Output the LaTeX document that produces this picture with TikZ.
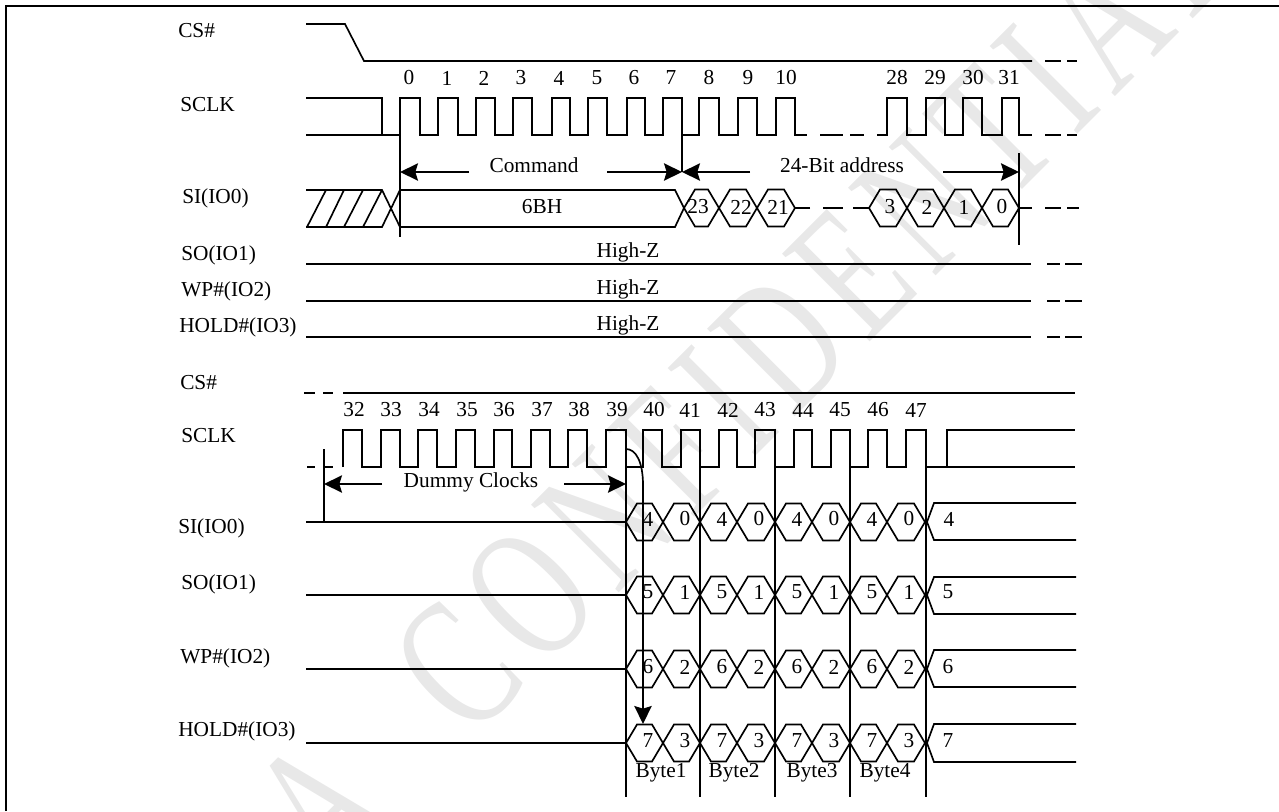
\documentclass[tikz,border=0pt]{standalone}
\usepackage{fontspec}
\setmainfont{Liberation Serif}
\newfontfamily\markfont[LetterSpace=10.8]{Liberation Serif}
\usetikzlibrary{arrows.meta}
\definecolor{markgray}{gray}{0.91}

\tikzset{
    sig/.style={line width=1.25pt},
    dimarrow/.style={line width=1.25pt, -{Stealth[length=13.5pt, width=13pt, inset=2pt]}},
    lbl/.style={font=\fontsize{16}{18}\selectfont, inner sep=0pt},
    pinlbl/.style={lbl, anchor=west},
    watermark/.style={font=\markfont\fontsize{142}{150}\selectfont, text=markgray, inner sep=0pt, anchor=base west, rotate=45, xscale=0.68}
}
% one data cell between two crossing points
\newcommand{\hexcell}[3]{
    \draw[sig] (#1,#3) -- ({#1+11},{#3-18.5}) -- ({#2-11},{#3-18.5}) -- (#2,#3)
        -- ({#2-11},{#3+18.5}) -- ({#1+11},{#3+18.5}) -- cycle;
}

\begin{document}
\begin{tikzpicture}[x=0.75pt, y=-0.75pt]
\useasboundingbox (0,0) rectangle (1279,811);
% Watermark behind everything
\begin{scope}
\clip (0,0) rectangle (1279,811);
\node[watermark] (markA) at (330,883) {A};
\node[watermark] (markB) at (470,742) {CONFIDENTIAL};
\end{scope}
% Page frame
\draw[line width=1.5pt] (6,811) -- (6,6) -- (1279,6);

% Pin names
\foreach \name/\txt/\x/\y in {csA/CS\#/178/31, ckA/SCLK/180/105, siA/SI(IO0)/182/198, soA/SO(IO1)/181/255,
    wpA/WP\#(IO2)/181/291, hdA/HOLD\#(IO3)/179/327, csB/CS\#/180/383, ckB/SCLK/181/436,
    siB/SI(IO0)/178/528, soB/SO(IO1)/181/584, wpB/WP\#(IO2)/180/658, hdB/HOLD\#(IO3)/178/731} {
    \node[pinlbl] (\name) at (\x,\y) {\txt};
}

% Clock numbers
\foreach \n/\x in {0/409, 1/447, 2/484, 3/521, 4/559, 5/597, 6/634, 7/671, 8/709, 9/748, 10/786,
    28/897, 29/935, 30/973, 31/1009} {
    \node[lbl] (numA\n) at (\x,78) {\n};
}
\foreach \n/\x in {32/354, 33/391, 34/429, 35/467, 36/504, 37/542, 38/579, 39/617, 40/654, 41/690,
    42/728, 43/765, 44/803, 45/840, 46/878, 47/916} {
    \node[lbl] (numB\n) at (\x,410) {\n};
}

% First part: CS# and SCLK
\draw[sig] (306,24) -- (345,24) -- (364,61) -- (1032,61);
\draw[sig] (306,98) -- (382,98) -- (382,135);
\draw[sig] (306,135) \foreach \r/\f in {400/420, 438/458, 476/495, 513/532, 552/570, 588/607, 627/645, 663/682,
    699/719, 738/757, 776/795} { -- (\r,135) -- (\r,98) -- (\f,98) -- (\f,135) } -- (807,135);
\draw[sig] (877,135) \foreach \r/\f in {887/907, 926/945, 963/982, 1002/1019} {
    -- (\r,135) -- (\r,98) -- (\f,98) -- (\f,135) } -- (1032,135);
% Broken lines
\foreach \a/\b/\y in {1045/1061/61, 1067/1077/61, 820/843/135, 850/864/135, 1045/1061/135, 1067/1077/135,
    810/795/208, 823/843/208, 853/869/208, 1019/1032/208, 1045/1061/208, 1067/1079/208,
    1047/1060/264, 1065/1082/264, 1047/1060/301, 1065/1082/301, 1047/1060/337, 1065/1082/337,
    304/315/393, 323/333/393, 307/315/467, 325/333/467} {
    \draw[sig] (\a,\y) -- (\b,\y);
}

% First part: SI
\draw[sig] (306,190) -- (382,190) -- (400,227) -- (675,227) -- (684,208);
\draw[sig] (306,227) -- (382,227) -- (400,190) -- (675,190) -- (684,208);
\foreach \a/\b in {307/326, 326/344, 344/363, 363/382} {
    \draw[sig] (\a,227) -- (\b,190);
}
\node[lbl] (opcode) at (542,207) {6BH};
\foreach \a/\b/\txt/\x in {684/719/23/698, 719/757/22/741, 757/795/21/778, 869/907/3/890, 907/944/2/927,
    944/982/1/964, 982/1019/0/1002} {
    \hexcell{\a}{\b}{208}
    \node[lbl] (addr\txt) at (\x,207) {\txt};
}

% High-Z lines
\foreach \y/\t in {264/252, 301/289, 337/325} {
    \draw[sig] (306,\y) -- (1031,\y);
    \node[lbl] (hiz\y) at (628,\t) {High-Z};
}

% Measures of the first part
\coordinate (cmdL) at (400,172);
\coordinate (cmdR) at (682,172);
\coordinate (adrR) at (1019,172);
\draw[sig] (400,135) -- (400,237);
\draw[sig] (682,135) -- (cmdR);
\draw[sig] (1019,153) -- (1019,245);
\node[lbl] (cmdtxt) at (534,165) {Command};
\node[lbl] (adrtxt) at (842,165) {24-Bit address};
\draw[dimarrow] (469,172) -- (cmdL);
\draw[dimarrow] (607,172) -- (cmdR);
\draw[dimarrow] (750,172) -- (cmdR);
\draw[dimarrow] (943,172) -- (adrR);

% Second part: CS# and SCLK
\draw[sig] (343,393) -- (1075,393);
\draw[sig] (343,467) \foreach \r/\f in {343/362, 381/400, 418/437, 456/475, 494/512, 531/550, 568/587, 606/626,
    643/662, 681/700, 719/737, 755/775, 794/812, 831/850, 868/887, 906/926} {
    -- (\r,467) -- (\r,430) -- (\f,430) -- (\f,467) } -- (1075,467);
\draw[sig] (947,467) -- (947,430) -- (1075,430);

% Second part: data rows
\foreach \mid/\top/\bot/\t/\e/\o/\last in {522/503/540/519/4/0/949, 595/577/614/592/5/1/948,
    669/650/687/667/6/2/948, 743/724/762/741/7/3/948} {
    \draw[sig] (306,\mid) -- (626,\mid);
    \foreach \a/\b/\x in {626/663/648, 700/737/722, 775/812/797, 850/887/872} {
        \hexcell{\a}{\b}{\mid}
        \node[lbl] (hi\mid\x) at (\x,\t) {\e};
    }
    \foreach \a/\b/\x in {663/700/685, 737/775/759, 812/850/834, 887/925/909} {
        \hexcell{\a}{\b}{\mid}
        \node[lbl] (lo\mid\x) at (\x,\t) {\o};
    }
    \draw[sig] (1076,\top) -- (934,\top) -- (927,\mid) -- (934,\bot) -- (1076,\bot);
    \node[lbl] (last\mid) at (\last,\t) {\e};
}

% Byte borders and names
\foreach \x in {626, 700, 775, 850, 926} {
    \draw[sig] (\x,467) -- (\x,797);
}
\foreach \n/\x in {1/661, 2/734, 3/812, 4/885} {
    \node[lbl] (byte\n) at (\x,773) {Byte\n};
}

% Measures of the second part
\coordinate (dumL) at (324,484);
\coordinate (dumR) at (626,484);
\coordinate (dataIn) at (643,724);
\draw[sig] (324,449) -- (324,522);
\node[lbl] (dumtxt) at (471,482) {Dummy Clocks};
\draw[dimarrow] (382,484) -- (dumL);
\draw[dimarrow] (564,484) -- (dumR);
\draw[dimarrow] (626,449) .. controls (636,449) and (643,462) .. (643,485) -- (dataIn);
\end{tikzpicture}
\end{document}
